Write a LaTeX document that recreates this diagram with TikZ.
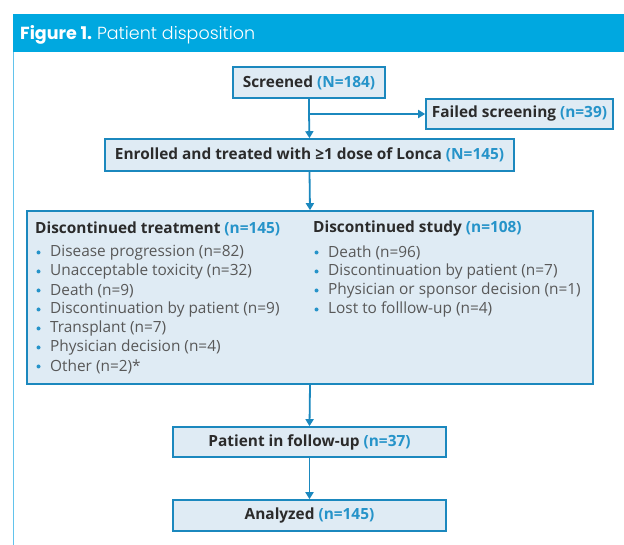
\documentclass[tikz,border=0pt]{standalone}
\usepackage{fontspec}
\setmainfont{Open Sans}
\newfontfamily\headfont{Poppins}
\newfontfamily\headlight{Poppins}[UprightFont=* Light]
\usetikzlibrary{arrows.meta}
\definecolor{headblue}{HTML}{00A8E0}
\definecolor{edgeblue}{HTML}{1B88BE}
\definecolor{fillblue}{HTML}{DFEBF4}
\definecolor{numblue}{HTML}{2593C9}
\definecolor{darktext}{HTML}{2B2B2B}
\definecolor{graytext}{HTML}{585858}
\definecolor{sideblue}{HTML}{62C3EC}
\newcommand{\nb}[1]{\textcolor{numblue}{#1}}
\tikzset{
  box/.style={draw=edgeblue, line width=1.6pt, fill=fillblue, inner sep=0pt, minimum height=31pt,
    text=darktext, font=\fontsize{15.4}{18}\selectfont\bfseries},
  conn/.style={draw=edgeblue, line width=1.8pt},
  arr/.style={conn, -{Triangle[width=8pt,length=7pt]}},
  heading/.style={anchor=west, inner sep=0pt, text=darktext, font=\fontsize{15.4}{18}\selectfont\bfseries},
  item/.style={anchor=west, inner sep=0pt, text=graytext, font=\fontsize{15.4}{18}\selectfont},
}
\begin{document}
\begin{tikzpicture}[x=1pt, y=-1pt]
\useasboundingbox (0,0) rectangle (624,545);
% header
\fill[headblue] (13,14) rectangle (624,52);
\node[anchor=west, inner sep=0pt, text=white, font=\fontsize{17.5}{20}\selectfont] (title) at (20,34.5)
  {\headfont\bfseries Figure 1. \headlight\mdseries Patient disposition};
\draw[sideblue, line width=1.4pt] (13.7,52) -- (13.7,545);
% boxes
\node[box, minimum width=152pt] (scr) at (309,82.5) {Screened \nb{(N=184)}};
\node[box, minimum width=187pt, minimum height=30pt] (fail) at (519.5,114) {Failed screening \nb{(n=39)}};
\node[box, minimum width=409pt, minimum height=32pt] (enr) at (309.5,155) {Enrolled and treated with ≥1 dose of Lonca \nb{(N=145)}};
\node[box, minimum width=566pt, minimum height=173pt] (disc) at (310,297.5) {};
\node[box, minimum width=273pt, minimum height=30pt] (fu) at (309.5,442) {Patient in follow-up \nb{(n=37)}};
\node[box, minimum width=273pt] (ana) at (309.5,515.5) {Analyzed \nb{(n=145)}};
% connectors
\coordinate (br) at (scr.south |- fail.west);
\draw[conn] (scr.south) -- (br);
\draw[arr] (br) -- (enr.north);
\draw[arr] (br) -- (fail.west);
\draw[arr] (enr.south) -- (disc.north);
\draw[arr] (disc.south) -- (fu.north);
\draw[arr] (fu.south) -- (ana.north);
% column 1
\node[heading] (h1) at (35,228.5) {Discontinued treatment \nb{(n=145)}};
\foreach \t [count=\i] in {Disease progression (n=82), Unacceptable toxicity (n=32), Death (n=9),
  Discontinuation by patient (n=9), Transplant (n=7), Physician decision (n=4), Other (n=2)*}{
  \fill[numblue] (38.5, 233.5+19*\i) circle (2pt);
  \node[item] (a\i) at (50, 233.5+19*\i) {\t};
}
% column 2
\node[heading] (h2) at (313,228.5) {Discontinued study \nb{(n=108)}};
\foreach \t [count=\i] in {Death (n=96), Discontinuation by patient (n=7),
  Physician or sponsor decision (n=1), Lost to folllow-up (n=4)}{
  \fill[numblue] (316.5, 233.5+19*\i) circle (2pt);
  \node[item] (b\i) at (328, 233.5+19*\i) {\t};
}
\end{tikzpicture}
\end{document}
